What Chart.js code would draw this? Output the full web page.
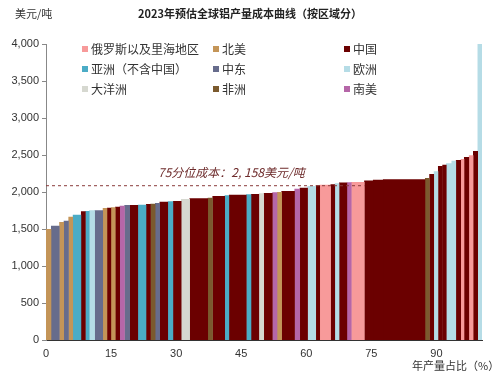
<!DOCTYPE html>
<html>
<head>
<meta charset="utf-8">
<script src="https://cdn.jsdelivr.net/npm/chart.js@4/dist/chart.umd.min.js"></script>
<style>
  html, body { margin: 0; padding: 0; background: #fff; }
  #wrap { position: relative; width: 500px; height: 381px; overflow: hidden; font-family: "Noto Sans CJK SC", "Liberation Sans", sans-serif; color: #404040; }
  canvas { position: absolute; left: 0; top: 0; }
  .txt { position: absolute; white-space: nowrap; line-height: 1; }
  #title { left: 0; width: 500px; top: 8px; text-align: center; font-size: 11px; font-weight: bold; color: #222; }
  #unit { left: 15px; top: 8px; font-size: 11px; color: #333; }
  #xtitle { left: 412px; top: 360px; font-size: 11px; color: #333; }
  #note { left: 158px; top: 166px; font-size: 12px; font-style: italic; color: #6e2b2b; }
  .leg { position: absolute; font-size: 12px; line-height: 1; color: #333; white-space: nowrap; }
  .leg i { display: inline-block; width: 6px; height: 6px; margin-right: 3px; vertical-align: 2px; }
</style>
</head>
<body>
<div id="wrap">
  <canvas id="c" width="500" height="381"></canvas>
  <div id="title" class="txt">2023年预估全球铝产量成本曲线（按区域分）</div>
  <div id="unit" class="txt">美元/吨</div>
  <div id="xtitle" class="txt">年产量占比（%）</div>
  <div id="note" class="txt">75分位成本：2, 158美元/吨</div>
</div>
<script>
// ---- data ----
const regionNames = ["俄罗斯以及里海地区", "北美", "中国", "亚洲（不含中国）", "中东", "欧洲", "大洋洲", "非洲", "南美"];
// cumulative production share (%) at the right edge of each bar
const barEnds = [1.2, 3.1, 4.1, 5.2, 6.2, 8.1, 9.1, 10.0, 11.2, 13.1,
                 14.1, 15.0, 16.0, 17.0, 18.1, 19.3, 21.2, 23.1, 24.1, 25.2,
                 26.2, 28.1, 29.3, 31.2, 33.1, 37.3, 38.4, 41.2, 42.2, 46.2,
                 47.3, 49.1, 50.2, 52.2, 53.3, 54.3, 57.3, 58.5, 60.3, 62.2,
                 63.1, 65.6, 66.6, 67.6, 69.4, 70.4, 73.4, 75.4, 77.7, 87.4,
                 88.4, 89.4, 90.4, 91.4, 92.3, 93.5, 94.5, 95.6, 96.4, 97.5,
                 98.5, 99.5, 100.5];
// cash cost (USD/t) of each bar
const barCosts = [1500, 1545, 1595, 1613, 1667, 1694, 1739, 1743, 1752, 1752,
                  1784, 1788, 1793, 1800, 1815, 1824, 1824, 1829, 1838, 1842,
                  1851, 1869, 1875, 1878, 1905, 1914, 1923, 1946, 1955, 1964,
                  1970, 1973, 1982, 1986, 1995, 2000, 2014, 2045, 2059, 2081,
                  2090, 2099, 2104, 2117, 2128, 2131, 2135, 2155, 2165, 2171,
                  2189, 2243, 2279, 2351, 2369, 2387, 2423, 2432, 2446, 2473,
                  2495, 2554, 4000];
// region index (into regionNames) of each bar
const barRegions = [1, 4, 1, 4, 1, 3, 2, 3, 5, 4,
                    1, 2, 1, 2, 8, 4, 2, 3, 2, 7,
                    4, 2, 3, 2, 6, 2, 7, 2, 3, 2,
                    3, 2, 6, 2, 8, 1, 2, 8, 2, 5,
                    2, 0, 2, 5, 2, 8, 0, 2, 2, 2,
                    7, 2, 5, 2, 2, 5, 5, 2, 0, 2,
                    0, 2, 5];
const refCost = 2085;      // drawn level of the 75th percentile line
const refEndShare = 73.4;  // where the dashed line meets the curve
const xTicks = [0, 15, 30, 45, 60, 75, 90];
const yTicks = [0, 500, 1000, 1500, 2000, 2500, 3000, 3500, 4000];

// ---- styles ----
const regionColors = ["#f79a9a", "#c49558", "#6b0000", "#4bacc6", "#676c8c", "#b5dce6", "#d6d8d0", "#7b5a2e", "#b566a8"];
const seamOverlap = 0.08; // small overlap so adjacent bars show no antialias gap

// legend (3 x 3 grid)
const legCols = [82, 213, 344];
const legRows = [43, 63, 83];
const wrap = document.getElementById('wrap');
regionNames.forEach((name, i) => {
  const d = document.createElement('div');
  d.className = 'leg';
  d.style.left = legCols[i % 3] + 'px';
  d.style.top = legRows[Math.floor(i / 3)] + 'px';
  d.innerHTML = '<i style="background:' + regionColors[i] + '"></i>' + name;
  wrap.appendChild(d);
});

const lastIdx = barEnds.length - 1;
const datasets = barEnds.map((end, i) => {
  const start = i === 0 ? 0 : barEnds[i - 1] - seamOverlap;
  const drawEnd = i === lastIdx ? end : end + seamOverlap;
  return {
    data: [{x: start, y: barCosts[i]}, {x: drawEnd, y: barCosts[i]}],
    fill: 'origin',
    backgroundColor: regionColors[barRegions[i]],
    borderColor: regionColors[barRegions[i]],
    borderWidth: 0,
    pointRadius: 0,
    order: 2
  };
});
datasets.push({
  data: [{x: 0, y: refCost}, {x: refEndShare, y: refCost}],
  fill: false,
  borderColor: '#8a3a3a',
  borderWidth: 1,
  borderDash: [3, 3],
  pointRadius: 0,
  order: 0
});

new Chart(document.getElementById('c'), {
  type: 'line',
  data: { datasets },
  options: {
    responsive: false,
    animation: false,
    events: [],
    layout: { padding: { left: 0, top: 44, right: 18, bottom: 0 } },
    plugins: { legend: { display: false }, tooltip: { enabled: false }, title: { display: false } },
    scales: {
      x: {
        type: 'linear', min: 0, max: 100.5,
        afterBuildTicks: s => { s.ticks = xTicks.map(v => ({ value: v })); },
        afterFit: s => { s.height = 41; },
        grid: { display: false, drawTicks: false },
        border: { display: true, color: '#333', width: 1 },
        ticks: { padding: 7, color: '#333', font: { family: 'Liberation Sans', size: 11 }, maxRotation: 0 }
      },
      y: {
        type: 'linear', min: 0, max: 4000,
        afterBuildTicks: s => { s.ticks = yTicks.map(v => ({ value: v })); },
        afterFit: s => { s.width = 46; },
        grid: { drawOnChartArea: false, drawTicks: true, tickLength: 4, color: '#888' },
        border: { display: true, color: '#888', width: 1 },
        ticks: { padding: 3, color: '#333', font: { family: 'Liberation Sans', size: 11 },
                 callback: v => v.toLocaleString('en-US') }
      }
    }
  }
});
</script>
</body>
</html>
